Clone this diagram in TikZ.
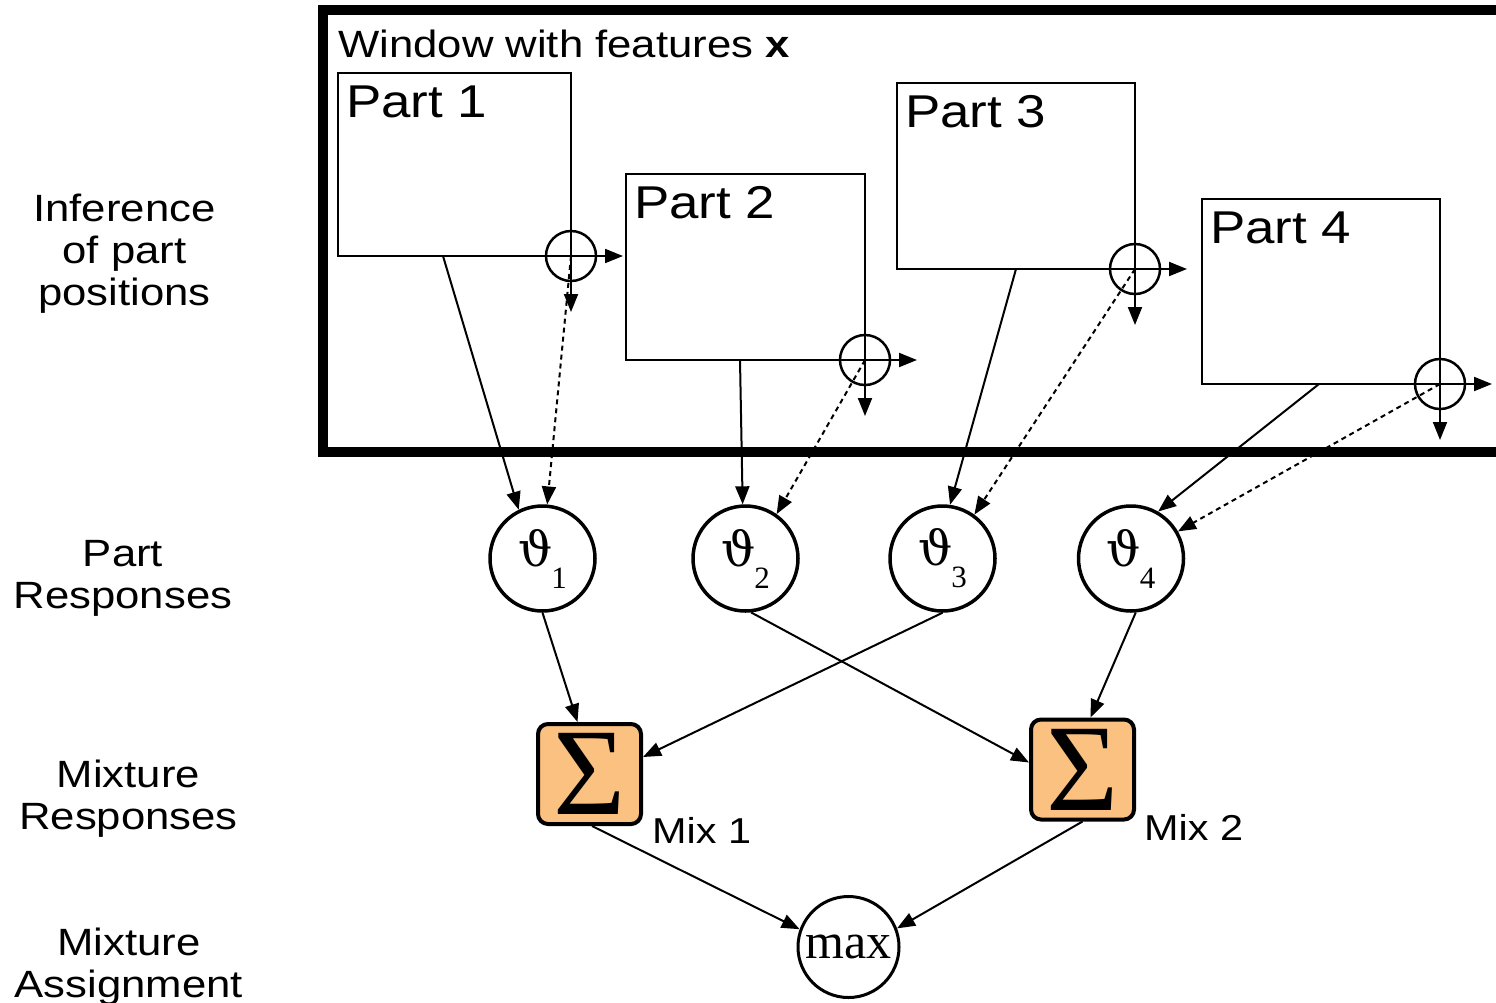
\documentclass[tikz,border=0pt]{standalone}
\usepackage{fontspec}
\setmainfont{Liberation Sans}[FakeStretch=1.15]
\newfontfamily\serifface{Liberation Serif}
\newfontfamily\thetaface{DejaVu Serif}
\usetikzlibrary{arrows.meta}
\definecolor{sigfill}{RGB}{251,193,128}
\newcommand\thlab[1]{{\thetaface\fontsize{48}{48}\selectfont ϑ}\kern-1pt\raisebox{-22pt}{\serifface\fontsize{31}{31}\selectfont #1}}
\tikzset{
  partbox/.style={draw,rectangle,line width=2pt,inner sep=0pt,outer sep=0pt},
  partlab/.style={anchor=base west,inner sep=0pt,font=\fontsize{46}{50}\selectfont},
  titlelab/.style={anchor=base west,inner sep=0pt,font=\fontsize{38}{44}\selectfont},
  sidelab/.style={anchor=base,inner sep=0pt,font=\fontsize{38}{42}\selectfont},
  mixlab/.style={anchor=base west,inner sep=0pt,font=\fontsize{36}{40}\selectfont},
  oplus/.style={draw,circle,line width=2.5pt,minimum size=50pt,inner sep=0pt},
  arr/.style={line width=2pt,-{Triangle[length=18pt,width=14pt]}},
  dotarr/.style={arr,dash pattern=on 5pt off 4pt},
  resp/.style={draw,circle,line width=3.5pt,minimum size=105pt,inner sep=0pt},
  sigbox/.style={draw,fill=sigfill,rounded corners=10pt,line width=4pt,minimum width=103pt,minimum height=100pt,inner sep=0pt,font=\serifface\fontsize{124}{124}\selectfont},
  maxnode/.style={draw,circle,line width=3pt,minimum size=101pt,inner sep=0pt,font=\serifface\fontsize{50}{50}\selectfont}
}
\begin{document}
\begin{tikzpicture}[x=1pt,y=-1pt]
\useasboundingbox (0,0) rectangle (1496,1002);
% window
\draw[line width=10pt] (323,10) rectangle (1540,452);
\node[titlelab] (title) at (338,57) {Window with features \textbf{x}};
% part boxes
\node[partbox,minimum width=233pt,minimum height=183pt] (p1) at (454.5,164.5) {};
\node[partbox,minimum width=239pt,minimum height=186pt] (p2) at (745.5,267) {};
\node[partbox,minimum width=238pt,minimum height=186pt] (p3) at (1016,176) {};
\node[partbox,minimum width=238pt,minimum height=185pt] (p4) at (1321,291.5) {};
\node[partlab] (p1l) at ([xshift=8pt,yshift=-44pt]p1.north west) {Part 1};
\node[partlab] (p2l) at ([xshift=8pt,yshift=-44pt]p2.north west) {Part 2};
\node[partlab] (p3l) at ([xshift=8pt,yshift=-44pt]p3.north west) {Part 3};
\node[partlab] (p4l) at ([xshift=8pt,yshift=-44pt]p4.north west) {Part 4};
% oplus
\foreach \i in {1,2,3,4}{
  \node[oplus] (o\i) at (p\i.south east) {};
  \coordinate (o\i r) at ([xshift=52pt]o\i.center);
  \coordinate (o\i d) at ([yshift=-56pt]o\i.center);
  \draw[arr] (o\i.center) -- (o\i r);
  \draw[arr] (o\i.center) -- (o\i d);
}
% part responses
\node[resp] (t1) at (542.5,558.5) {\thlab{1}};
\node[resp] (t2) at (745.5,558.5) {\thlab{2}};
\node[resp] (t3) at (942.5,558.5) {\thlab{3}};
\node[resp] (t4) at (1131,558.5) {\thlab{4}};
% mixtures
\node[sigbox] (m1) at (589.5,774) {Σ};
\node[sigbox] (m2) at (1082.5,769.5) {Σ};
\node[mixlab] (m1l) at (652,843) {Mix 1};
\node[mixlab] (m2l) at (1144,840) {Mix 2};
\node[maxnode] (mx) at (848.5,947) {max};
% connectors
\draw[arr] ([xshift=-11.5pt]p1.south) -- (t1.116);
\draw[dotarr] (o1.center) -- (t1.85);
\draw[arr] ([xshift=-5.5pt]p2.south) -- (t2.93);
\draw[dotarr] (o2.center) -- (t2.55);
\draw[arr] (p3.south) -- (t3.82);
\draw[dotarr] (o3.center) -- (t3.54);
\draw[arr] ([xshift=-2pt]p4.south) -- (t4.60);
\draw[dotarr] (o4.center) -- (t4.30);
\draw[arr] (t1.south) -- ([xshift=-12pt]m1.north);
\draw[arr] (t3.south) -- ([yshift=17pt]m1.east);
\draw[arr] (t2.-84) -- ([yshift=7pt]m2.west);
\draw[arr] (t4.-85) -- ([xshift=8pt]m2.north);
\draw[arr] ([xshift=2.5pt]m1.south) -- (mx.160);
\draw[arr] (m2.south) -- (mx.21);
% side labels
\node[sidelab] (s1a) at (124.5,221) {Inference};
\node[sidelab] (s1b) at (124.5,263) {of part};
\node[sidelab] (s1c) at (124.5,305) {positions};
\node[sidelab] (s2a) at (123,566) {Part};
\node[sidelab] (s2b) at (123,608) {Responses};
\node[sidelab] (s3a) at (128.5,787) {Mixture};
\node[sidelab] (s3b) at (128.5,829) {Responses};
\node[sidelab] (s4a) at (129,955) {Mixture};
\node[sidelab] (s4b) at (129,997) {Assignment};
\end{tikzpicture}
\end{document}
